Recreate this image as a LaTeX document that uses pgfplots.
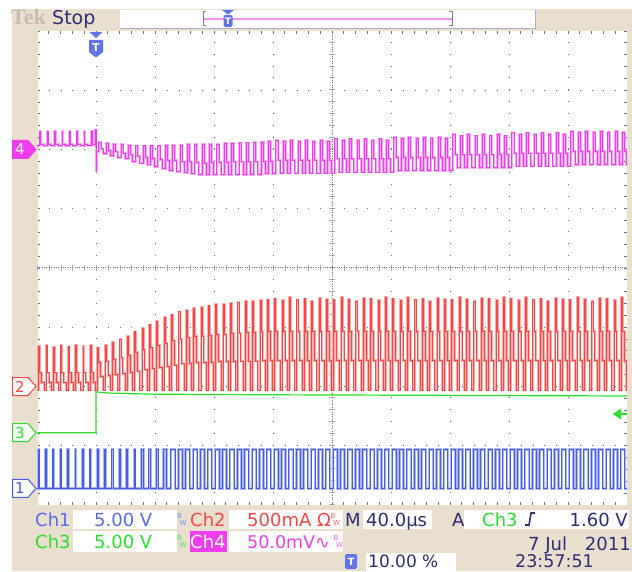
\documentclass[border=0pt]{standalone}
\usepackage{pgfplots}
\pgfplotsset{compat=1.18}
\usepackage{fontspec}
\setmainfont{DejaVu Sans}
\newfontfamily\tekfont{Liberation Serif}
\definecolor{beige}{RGB}{234,222,206}
\definecolor{tekgrey}{RGB}{200,190,176}
\definecolor{navy}{RGB}{45,45,115}
\definecolor{gridc}{RGB}{110,110,150}
\definecolor{gridl}{RGB}{175,175,205}
\definecolor{cream}{RGB}{232,228,195}
\definecolor{chA}{RGB}{70,90,235}
\definecolor{chB}{RGB}{250,70,70}
\definecolor{chC}{RGB}{40,225,40}
\definecolor{chD}{RGB}{240,60,240}
\begin{document}
\begin{tikzpicture}[x=1pt,y=1pt]
\useasboundingbox (0,0) rectangle (632,571);
\fill[white] (0,0) rectangle (632,571);
\fill[beige] (12,0) rectangle (632,562);
% top bar
\fill[white] (120,543) rectangle (535,561);
\draw[gridl,line width=0.8pt] (120,543)--(535,543)--(535,561);
\draw[chD!55,line width=2pt] (203,552)--(452,552);
\draw[gray,line width=1pt] (206,545)--(203,545)--(203,559)--(206,559);
\draw[gray,line width=1pt] (449,545)--(452,545)--(452,559)--(449,559);
\fill[chA!85] (222,561)--(234,561)--(228,556.5)--cycle;
\fill[chA!85,rounded corners=1.5pt] (223.5,544) rectangle (232.5,556);
\node[white,font=\bfseries\fontsize{9}{9}\selectfont,inner sep=0] at (228,550) {T};
\node[anchor=base west,inner sep=0,text=tekgrey,font=\tekfont\bfseries\fontsize{22}{22}\selectfont] at (11,546) {Tek};
\node[anchor=base west,inner sep=0,text=navy,font=\fontsize{19}{19}\selectfont] at (52,546) {Stop};
\begin{axis}[
  at={(37pt,66pt)}, anchor=south west, scale only axis,
  width=590pt, height=474pt,
  xmin=0, xmax=10, ymin=-4, ymax=4,
  xtick={0,...,10}, ytick={-4,...,4},
  minor x tick num=4, minor y tick num=4,
  xticklabels={}, yticklabels={},
  tick align=inside, xtick pos=both, ytick pos=both,
  major tick length=3pt, minor tick length=3pt,
  every tick/.style={gridc, line width=0.9pt},
  grid=major,
  major x grid style={gridc, line width=1pt, dash pattern=on 1pt off 10.85pt},
  major y grid style={gridc, line width=1pt, dash pattern=on 1pt off 10.8pt},
  axis line style={cream, line width=1pt},
  axis background/.style={fill=white},
  clip=true,
  trace/.style={const plot, no marks, line width=1pt},
]
% centre lines
\draw[gridl, line width=6pt, dash pattern=on 1pt off 10.8pt] (axis cs:0,0) -- (axis cs:10,0);
\draw[gridl, line width=6pt, dash pattern=on 1pt off 10.85pt] (axis cs:5,-4) -- (axis cs:5,4);
\draw[gridc, line width=1pt, dash pattern=on 1pt off 1.36pt] (axis cs:0,0) -- (axis cs:10,0);
\draw[gridc, line width=1pt, dash pattern=on 1pt off 1.37pt] (axis cs:5,-4) -- (axis cs:5,4);

% Ch4 (magenta)
\addplot[trace, chD, preaction={draw, chD!45, line width=2.6pt}] coordinates {
(0,2.07)
(0.05,2.30)(0.062,2.09)(0.11,2.06)(0.175,2.30)(0.187,2.09)(0.235,2.06)(0.30,2.30)(0.312,2.09)(0.36,2.06)(0.425,2.30)(0.437,2.09)(0.485,2.06)
(0.55,2.30)(0.562,2.09)(0.61,2.06)(0.675,2.30)(0.687,2.09)(0.735,2.06)(0.80,2.30)(0.812,2.09)(0.86,2.06)(0.925,2.30)(0.937,2.09)(0.985,2.06)
(0.995,2.33)(1.0,1.64)(1.008,1.96)
(1.05,2.12)(1.085,2.01)(1.12,1.93)(1.175,2.10)(1.21,1.98)(1.245,1.90)(1.30,2.09)(1.335,1.96)(1.37,1.87)(1.425,2.08)(1.46,1.94)(1.495,1.84)
(1.55,2.07)(1.585,1.91)(1.62,1.80)(1.675,2.06)(1.71,1.89)(1.745,1.77)(1.80,2.06)(1.835,1.87)(1.87,1.74)(1.925,2.06)(1.96,1.85)(1.995,1.71)
(2.05,2.06)(2.085,1.83)(2.12,1.68)(2.175,2.07)(2.21,1.82)(2.245,1.65)(2.30,2.07)(2.335,1.81)(2.37,1.63)(2.425,2.07)(2.46,1.79)(2.495,1.61)
(2.55,2.08)(2.585,1.79)(2.62,1.59)(2.675,2.08)(2.71,1.78)(2.745,1.58)(2.80,2.08)(2.835,1.77)(2.87,1.57)(2.925,2.09)(2.96,1.78)(2.995,1.57)
(3.05,2.09)(3.085,1.78)(3.12,1.57)(3.175,2.10)(3.21,1.78)(3.245,1.57)(3.30,2.10)(3.335,1.79)(3.37,1.58)(3.425,2.11)(3.46,1.79)(3.495,1.58)
(3.55,2.11)(3.585,1.79)(3.62,1.58)(3.675,2.12)(3.71,1.79)(3.745,1.58)(3.80,2.12)(3.835,1.80)(3.87,1.59)(3.925,2.13)(3.96,1.80)(3.995,1.59)
(4.05,2.15)(4.085,1.82)(4.12,1.60)(4.175,2.13)(4.21,1.82)(4.245,1.60)(4.30,2.15)(4.335,1.82)(4.37,1.60)(4.425,2.13)(4.46,1.82)(4.495,1.60)
(4.55,2.15)(4.585,1.82)(4.62,1.60)(4.675,2.13)(4.71,1.82)(4.745,1.60)(4.80,2.15)(4.835,1.82)(4.87,1.60)(4.925,2.13)(4.96,1.82)(4.995,1.60)
(5.05,2.18)(5.085,1.84)(5.12,1.62)(5.175,2.16)(5.21,1.84)(5.245,1.62)(5.30,2.18)(5.335,1.84)(5.37,1.62)(5.425,2.16)(5.46,1.84)(5.495,1.62)
(5.55,2.18)(5.585,1.84)(5.62,1.62)(5.675,2.16)(5.71,1.84)(5.745,1.62)(5.80,2.18)(5.835,1.84)(5.87,1.62)(5.925,2.16)(5.96,1.84)(5.995,1.62)
(6.05,2.21)(6.085,1.87)(6.12,1.65)(6.175,2.19)(6.21,1.87)(6.245,1.65)(6.30,2.21)(6.335,1.87)(6.37,1.65)(6.425,2.19)(6.46,1.87)(6.495,1.65)
(6.55,2.21)(6.585,1.87)(6.62,1.65)(6.675,2.19)(6.71,1.87)(6.745,1.65)(6.80,2.21)(6.835,1.87)(6.87,1.65)(6.925,2.19)(6.96,1.87)(6.995,1.65)
(7.05,2.25)(7.085,1.91)(7.12,1.69)(7.175,2.23)(7.21,1.91)(7.245,1.69)(7.30,2.25)(7.335,1.91)(7.37,1.69)(7.425,2.23)(7.46,1.91)(7.495,1.69)
(7.55,2.25)(7.585,1.91)(7.62,1.69)(7.675,2.23)(7.71,1.91)(7.745,1.69)(7.80,2.25)(7.835,1.91)(7.87,1.69)(7.925,2.23)(7.96,1.91)(7.995,1.69)
(8.05,2.28)(8.085,1.94)(8.12,1.72)(8.175,2.26)(8.21,1.94)(8.245,1.72)(8.30,2.28)(8.335,1.94)(8.37,1.72)(8.425,2.26)(8.46,1.94)(8.495,1.72)
(8.55,2.28)(8.585,1.94)(8.62,1.72)(8.675,2.26)(8.71,1.94)(8.745,1.72)(8.80,2.28)(8.835,1.94)(8.87,1.72)(8.925,2.26)(8.96,1.94)(8.995,1.72)
(9.05,2.31)(9.085,1.97)(9.12,1.75)(9.175,2.29)(9.21,1.97)(9.245,1.75)(9.30,2.31)(9.335,1.97)(9.37,1.75)(9.425,2.29)(9.46,1.97)(9.495,1.75)
(9.55,2.31)(9.585,1.97)(9.62,1.75)(9.675,2.29)(9.71,1.97)(9.745,1.75)(9.80,2.31)(9.835,1.97)(9.87,1.75)(9.925,2.29)(9.96,1.97)(9.995,1.75)
(10,1.75)};

% Ch2 (red)
\addplot[trace, chB, preaction={draw, chB!45, line width=2.6pt}] coordinates {
(0,-2.06)
(0.03,-1.32)(0.045,-1.77)(0.08,-1.93)(0.12,-2.06)(0.155,-1.30)(0.17,-1.77)(0.205,-1.93)(0.245,-2.06)
(0.28,-1.34)(0.295,-1.77)(0.33,-1.93)(0.37,-2.06)(0.405,-1.31)(0.42,-1.77)(0.455,-1.93)(0.495,-2.06)
(0.53,-1.33)(0.545,-1.77)(0.58,-1.93)(0.62,-2.06)(0.655,-1.30)(0.67,-1.77)(0.705,-1.93)(0.745,-2.06)
(0.78,-1.32)(0.795,-1.77)(0.83,-1.93)(0.87,-2.06)(0.905,-1.31)(0.92,-1.77)(0.955,-1.93)(0.995,-2.06)
(1.03,-1.35)(1.05,-1.60)(1.08,-1.83)(1.12,-2.06)(1.155,-1.30)(1.175,-1.57)(1.205,-1.81)(1.245,-2.06)
(1.28,-1.26)(1.30,-1.54)(1.33,-1.80)(1.37,-2.06)(1.405,-1.21)(1.425,-1.51)(1.455,-1.78)(1.495,-2.06)
(1.53,-1.15)(1.55,-1.47)(1.58,-1.76)(1.62,-2.06)(1.655,-1.08)(1.675,-1.42)(1.705,-1.74)(1.745,-2.06)
(1.78,-1.02)(1.80,-1.38)(1.83,-1.72)(1.87,-2.06)(1.905,-0.96)(1.925,-1.35)(1.955,-1.70)(1.995,-2.06)
(2.03,-0.90)(2.05,-1.31)(2.08,-1.68)(2.12,-2.06)(2.155,-0.84)(2.175,-1.27)(2.205,-1.66)(2.245,-2.06)
(2.28,-0.79)(2.30,-1.23)(2.33,-1.64)(2.37,-2.06)(2.405,-0.74)(2.425,-1.20)(2.455,-1.62)(2.495,-2.06)
(2.53,-0.71)(2.55,-1.18)(2.58,-1.61)(2.62,-2.06)(2.655,-0.68)(2.675,-1.16)(2.705,-1.60)(2.745,-2.06)
(2.78,-0.66)(2.80,-1.15)(2.83,-1.60)(2.87,-2.06)(2.905,-0.64)(2.925,-1.14)(2.955,-1.59)(2.995,-2.06)
(3.03,-0.62)(3.05,-1.12)(3.08,-1.58)(3.12,-2.06)(3.155,-0.61)(3.175,-1.12)(3.205,-1.58)(3.245,-2.06)
(3.28,-0.60)(3.30,-1.11)(3.33,-1.58)(3.37,-2.06)(3.405,-0.58)(3.425,-1.10)(3.455,-1.57)(3.495,-2.06)
(3.53,-0.57)(3.55,-1.09)(3.58,-1.57)(3.62,-2.06)(3.655,-0.56)(3.675,-1.09)(3.705,-1.57)(3.745,-2.06)
(3.78,-0.55)(3.80,-1.08)(3.83,-1.56)(3.87,-2.06)(3.905,-0.54)(3.925,-1.07)(3.955,-1.56)(3.995,-2.06)
(4.03,-0.52)(4.05,-1.07)(4.08,-1.56)(4.12,-2.06)(4.155,-0.55)(4.175,-1.07)(4.205,-1.56)(4.245,-2.06)
(4.28,-0.50)(4.30,-1.07)(4.33,-1.56)(4.37,-2.06)(4.405,-0.54)(4.425,-1.07)(4.455,-1.56)(4.495,-2.06)
(4.53,-0.52)(4.55,-1.07)(4.58,-1.56)(4.62,-2.06)(4.655,-0.56)(4.675,-1.07)(4.705,-1.56)(4.745,-2.06)
(4.78,-0.51)(4.80,-1.07)(4.83,-1.56)(4.87,-2.06)(4.905,-0.53)(4.925,-1.07)(4.955,-1.56)(4.995,-2.06)
(5.03,-0.54)(5.05,-1.07)(5.08,-1.56)(5.12,-2.06)(5.155,-0.50)(5.175,-1.07)(5.205,-1.56)(5.245,-2.06)
(5.28,-0.53)(5.30,-1.07)(5.33,-1.56)(5.37,-2.06)(5.405,-0.56)(5.425,-1.07)(5.455,-1.56)(5.495,-2.06)
(5.53,-0.51)(5.55,-1.07)(5.58,-1.56)(5.62,-2.06)(5.655,-0.52)(5.675,-1.07)(5.705,-1.56)(5.745,-2.06)
(5.78,-0.55)(5.80,-1.07)(5.83,-1.56)(5.87,-2.06)(5.905,-0.50)(5.925,-1.07)(5.955,-1.56)(5.995,-2.06)
(6.03,-0.52)(6.05,-1.07)(6.08,-1.56)(6.12,-2.06)(6.155,-0.55)(6.175,-1.07)(6.205,-1.56)(6.245,-2.06)
(6.28,-0.50)(6.30,-1.07)(6.33,-1.56)(6.37,-2.06)(6.405,-0.54)(6.425,-1.07)(6.455,-1.56)(6.495,-2.06)
(6.53,-0.52)(6.55,-1.07)(6.58,-1.56)(6.62,-2.06)(6.655,-0.56)(6.675,-1.07)(6.705,-1.56)(6.745,-2.06)
(6.78,-0.51)(6.80,-1.07)(6.83,-1.56)(6.87,-2.06)(6.905,-0.53)(6.925,-1.07)(6.955,-1.56)(6.995,-2.06)
(7.03,-0.54)(7.05,-1.07)(7.08,-1.56)(7.12,-2.06)(7.155,-0.50)(7.175,-1.07)(7.205,-1.56)(7.245,-2.06)
(7.28,-0.53)(7.30,-1.07)(7.33,-1.56)(7.37,-2.06)(7.405,-0.56)(7.425,-1.07)(7.455,-1.56)(7.495,-2.06)
(7.53,-0.51)(7.55,-1.07)(7.58,-1.56)(7.62,-2.06)(7.655,-0.52)(7.675,-1.07)(7.705,-1.56)(7.745,-2.06)
(7.78,-0.55)(7.80,-1.07)(7.83,-1.56)(7.87,-2.06)(7.905,-0.50)(7.925,-1.07)(7.955,-1.56)(7.995,-2.06)
(8.03,-0.52)(8.05,-1.07)(8.08,-1.56)(8.12,-2.06)(8.155,-0.55)(8.175,-1.07)(8.205,-1.56)(8.245,-2.06)
(8.28,-0.50)(8.30,-1.07)(8.33,-1.56)(8.37,-2.06)(8.405,-0.54)(8.425,-1.07)(8.455,-1.56)(8.495,-2.06)
(8.53,-0.52)(8.55,-1.07)(8.58,-1.56)(8.62,-2.06)(8.655,-0.56)(8.675,-1.07)(8.705,-1.56)(8.745,-2.06)
(8.78,-0.51)(8.80,-1.07)(8.83,-1.56)(8.87,-2.06)(8.905,-0.53)(8.925,-1.07)(8.955,-1.56)(8.995,-2.06)
(9.03,-0.54)(9.05,-1.07)(9.08,-1.56)(9.12,-2.06)(9.155,-0.50)(9.175,-1.07)(9.205,-1.56)(9.245,-2.06)
(9.28,-0.53)(9.30,-1.07)(9.33,-1.56)(9.37,-2.06)(9.405,-0.56)(9.425,-1.07)(9.455,-1.56)(9.495,-2.06)
(9.53,-0.51)(9.55,-1.07)(9.58,-1.56)(9.62,-2.06)(9.655,-0.52)(9.675,-1.07)(9.705,-1.56)(9.745,-2.06)
(9.78,-0.55)(9.80,-1.07)(9.83,-1.56)(9.87,-2.06)(9.905,-0.50)(9.925,-1.07)(9.955,-1.56)(9.995,-2.06)
(10,-2.06)};

% Ch3 (green)
\addplot[no marks, chC, line width=1.2pt] coordinates {
(0,-2.78)(1.0,-2.78)(1.0,-2.09)(1.2,-2.11)(2,-2.13)(4,-2.14)(7,-2.15)(10,-2.16)};

% Ch1 (blue)
\addplot[trace, chA, preaction={draw, chA!45, line width=2.4pt}] coordinates {
(0,-3.72)
(0.02,-3.06)(0.035,-3.72)(0.145,-3.06)(0.16,-3.72)(0.27,-3.06)(0.285,-3.72)(0.395,-3.06)(0.41,-3.72)
(0.52,-3.06)(0.535,-3.72)(0.645,-3.06)(0.66,-3.72)(0.77,-3.06)(0.785,-3.72)(0.895,-3.06)(0.91,-3.72)
(1.02,-3.06)(1.04,-3.72)(1.145,-3.06)(1.165,-3.72)(1.27,-3.06)(1.29,-3.72)(1.395,-3.06)(1.415,-3.72)
(1.52,-3.06)(1.54,-3.72)(1.645,-3.06)(1.665,-3.72)(1.77,-3.06)(1.805,-3.72)(1.895,-3.06)(1.93,-3.72)
(2.02,-3.06)(2.055,-3.72)(2.145,-3.06)(2.195,-3.72)(2.27,-3.06)(2.34,-3.72)(2.395,-3.06)(2.465,-3.72)
(2.52,-3.06)(2.59,-3.72)(2.645,-3.06)(2.715,-3.72)(2.77,-3.06)(2.84,-3.72)(2.895,-3.06)(2.965,-3.72)
(3.02,-3.06)(3.09,-3.72)(3.145,-3.06)(3.215,-3.72)(3.27,-3.06)(3.34,-3.72)(3.395,-3.06)(3.465,-3.72)
(3.52,-3.06)(3.59,-3.72)(3.645,-3.06)(3.715,-3.72)(3.77,-3.06)(3.84,-3.72)(3.895,-3.06)(3.965,-3.72)
(4.02,-3.06)(4.09,-3.72)(4.145,-3.06)(4.215,-3.72)(4.27,-3.06)(4.34,-3.72)(4.395,-3.06)(4.465,-3.72)
(4.52,-3.06)(4.59,-3.72)(4.645,-3.06)(4.715,-3.72)(4.77,-3.06)(4.84,-3.72)(4.895,-3.06)(4.965,-3.72)
(5.02,-3.06)(5.09,-3.72)(5.145,-3.06)(5.215,-3.72)(5.27,-3.06)(5.34,-3.72)(5.395,-3.06)(5.465,-3.72)
(5.52,-3.06)(5.59,-3.72)(5.645,-3.06)(5.715,-3.72)(5.77,-3.06)(5.84,-3.72)(5.895,-3.06)(5.965,-3.72)
(6.02,-3.06)(6.09,-3.72)(6.145,-3.06)(6.215,-3.72)(6.27,-3.06)(6.34,-3.72)(6.395,-3.06)(6.465,-3.72)
(6.52,-3.06)(6.59,-3.72)(6.645,-3.06)(6.715,-3.72)(6.77,-3.06)(6.84,-3.72)(6.895,-3.06)(6.965,-3.72)
(7.02,-3.06)(7.09,-3.72)(7.145,-3.06)(7.215,-3.72)(7.27,-3.06)(7.34,-3.72)(7.395,-3.06)(7.465,-3.72)
(7.52,-3.06)(7.59,-3.72)(7.645,-3.06)(7.715,-3.72)(7.77,-3.06)(7.84,-3.72)(7.895,-3.06)(7.965,-3.72)
(8.02,-3.06)(8.09,-3.72)(8.145,-3.06)(8.215,-3.72)(8.27,-3.06)(8.34,-3.72)(8.395,-3.06)(8.465,-3.72)
(8.52,-3.06)(8.59,-3.72)(8.645,-3.06)(8.715,-3.72)(8.77,-3.06)(8.84,-3.72)(8.895,-3.06)(8.965,-3.72)
(9.02,-3.06)(9.09,-3.72)(9.145,-3.06)(9.215,-3.72)(9.27,-3.06)(9.34,-3.72)(9.395,-3.06)(9.465,-3.72)
(9.52,-3.06)(9.59,-3.72)(9.645,-3.06)(9.715,-3.72)(9.77,-3.06)(9.84,-3.72)(9.895,-3.06)(9.965,-3.72)
(10,-3.72)};
\end{axis}
% trigger marker on top of graticule
\fill[chA!85] (89.5,539)--(102.5,539)--(96,533)--cycle;
\fill[chA!85] (89,531)--(103,531)--(103,519)--(96,513.5)--(89,519)--cycle;
\node[white,font=\bfseries\fontsize{11}{11}\selectfont,inner sep=0] at (96,523.5) {T};
% trigger level arrow (ch3)
\fill[chC] (613,157)--(621,162.5)--(621,151.5)--cycle;
\draw[chC,line width=1.6pt] (620,157)--(627,157);
% channel flags
\path[fill=chD,draw=chD,line width=1pt] (12.5,412.5)--(28,412.5)--(36,421.5)--(28,430.5)--(12.5,430.5)--cycle;
\node[white,font=\fontsize{15}{15}\selectfont,inner sep=0] at (20,421.5) {4};
\path[fill=white,draw=chB,line width=1pt] (12.5,175.5)--(28,175.5)--(36,184.5)--(28,193.5)--(12.5,193.5)--cycle;
\node[chB,font=\fontsize{15}{15}\selectfont,inner sep=0] at (20,184.5) {2};
\path[fill=white,draw=chC,line width=1pt] (12.5,129.3)--(28,129.3)--(36,138.3)--(28,147.3)--(12.5,147.3)--cycle;
\node[chC,font=\fontsize{15}{15}\selectfont,inner sep=0] at (20,138.3) {3};
\path[fill=white,draw=chA,line width=1pt] (12.5,73.6)--(28,73.6)--(36,82.6)--(28,91.6)--(12.5,91.6)--cycle;
\node[chA,font=\fontsize{15}{15}\selectfont,inner sep=0] at (20,82.6) {1};
% readout boxes
\fill[white] (73,42) rectangle (177,61);
\fill[white] (229,42) rectangle (343,61);
\fill[white] (363,42) rectangle (432,61);
\fill[white] (464,42) rectangle (629,61);
\fill[white] (73,19) rectangle (177,40);
\fill[white] (229,19) rectangle (343,40);
\fill[chD] (190,19) rectangle (227,40);
\fill[white] (366,0) rectangle (456,18);
\begin{scope}[every node/.style={anchor=base west,inner sep=0,font=\fontsize{18}{18}\selectfont}]
\node[text=chA!90] at (35,45) {Ch1};
\node[text=chA!90] at (94,45) {5.00 V};
\node[text=chB] at (190,45) {Ch2};
\node[text=chB] at (247,45) {500mA Ω};
\node[text=navy] at (345,45) {M};
\node[text=navy] at (366,45) {40.0µs};
\node[text=navy] at (452,45) {A};
\node[text=chC] at (482,45) {Ch3};
\node[text=navy,anchor=base east] at (628,45) {1.60 V};
\node[text=chC] at (35,23) {Ch3};
\node[text=chC] at (94,23) {5.00 V};
\node[text=white] at (190,23) {Ch4};
\node[text=chD,font=\fontsize{17.5}{17.5}\selectfont] at (247,23) {50.0mV∿};
\node[text=navy,font=\fontsize{17}{17}\selectfont] at (368,4) {10.00 \%};
\node[text=navy] at (528,21) {7 Jul};
\node[text=navy,anchor=base east] at (631,21) {2011};
\node[text=navy,font=\fontsize{17.5}{17.5}\selectfont] at (515,4) {23:57:51};
\end{scope}
% bandwidth symbols
\begin{scope}[every node/.style={inner sep=0,font=\fontsize{7}{7}\selectfont}]
\node[text=chA!70] at (179.5,55) {B}; \node[text=chA!70] at (183,48.5) {W};
\node[text=chB!80] at (333,55) {B}; \node[text=chB!80] at (336.5,48.5) {W};
\node[text=chC!80] at (179.5,33) {B}; \node[text=chC!80] at (183,26.5) {W};
\node[text=chD!80] at (336,33) {B}; \node[text=chD!80] at (339.5,26.5) {W};
\end{scope}
% trigger slope
\draw[navy,line width=1.6pt] (525,46)--(529,46)--(531,58)--(535,58);
% T icon bottom
\fill[chA!85,rounded corners=1.5pt] (345,2) rectangle (357,17);
\node[white,font=\bfseries\fontsize{10}{10}\selectfont,inner sep=0] at (351,9.5) {T};
\end{tikzpicture}
\end{document}
